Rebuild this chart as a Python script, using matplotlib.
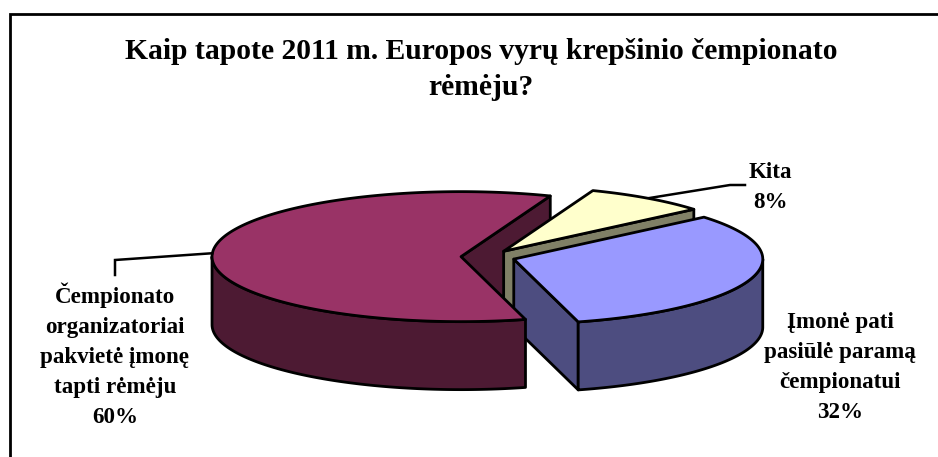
import numpy as np
import matplotlib
matplotlib.use("Agg")
import matplotlib.pyplot as plt
from matplotlib.patches import Polygon

# Survey shares, in drawing order starting from the first slice
categories = ["Čempionato\norganizatoriai\npakvietė įmonę\ntapti rėmėju",
              "Įmonė pati\npasiūlė paramą\nčempionatui",
              "Kita"]
shares = [60, 32, 8]
title_lines = ["Kaip tapote 2011 m. Europos vyrų krepšinio čempionato", "rėmėju?"]

top_colors = ["#993366", "#9999FF", "#FFFFCC"]
side_colors = ["#4D1A33", "#4D4D80", "#808066"]

W, H = 938, 457
CX, CY = 488.0, 257.0       # pie centre before explosion
RX, RY = 249.0, 65.0        # ellipse radii of the top face
DEPTH = 68.0                # wall height
EXPLODE = 27.0              # explosion along each slice's mid angle
START = 69.0                # angle where the first slice begins
EDGE = 2.0

plt.rcParams["font.family"] = ["Liberation Serif", "DejaVu Serif"]
fig = plt.figure(figsize=(W / 100, H / 100), dpi=100)
ax = fig.add_axes([0, 0, 1, 1])
ax.set_xlim(0, W)
ax.set_ylim(H, 0)
ax.axis("off")

# Slice geometry derived from the shares
slices = []
a0 = START
for share in shares:
    a1 = a0 + share * 3.6
    mid = np.radians((a0 + a1) / 2)
    sx = CX + EXPLODE * np.cos(mid)
    sy = CY - EXPLODE * RY / RX * np.sin(mid)
    slices.append(dict(a0=a0, a1=a1, mid=mid, x=sx, y=sy))
    a0 = a1


def rim(s, a):
    t = np.radians(a)
    return s["x"] + RX * np.cos(t), s["y"] - RY * np.sin(t)


def add(points, color, z):
    ax.add_patch(Polygon(points, closed=True, facecolor=color, edgecolor="black",
                         linewidth=EDGE, joinstyle="round", zorder=z))


def top_face(s, color, z):
    angles = np.linspace(s["a0"], s["a1"], 200)
    pts = [(s["x"], s["y"])] + [rim(s, a) for a in angles]
    add(pts, color, z)


def start_wall(s, color, z):
    ex, ey = rim(s, s["a0"])
    add([(s["x"], s["y"]), (ex, ey), (ex, ey + DEPTH), (s["x"], s["y"] + DEPTH)], color, z)


def outer_wall(s, color, z):
    # Only the part of the rim on the near half of the ellipse faces the viewer
    lo = max(s["a0"], 180.0)
    hi = min(s["a1"], 360.0)
    angles = np.linspace(lo, hi, 200)
    upper = [rim(s, a) for a in angles]
    lower = [(x, y + DEPTH) for x, y in reversed(upper)]
    add(upper + lower, color, z)


big, blue, other = slices

# Back-to-front painting order of the exploded slices
start_wall(big, side_colors[0], 2)
start_wall(other, side_colors[2], 3)
top_face(other, top_colors[2], 4)
start_wall(blue, side_colors[1], 5)
outer_wall(blue, side_colors[1], 5)
top_face(blue, top_colors[1], 6)
outer_wall(big, side_colors[0], 7)
top_face(big, top_colors[0], 8)

# Leader lines from the rim to the labels
lx, ly = rim(big, np.degrees(big["mid"]))
ax.plot([lx, 115, 115], [ly, 260, 275], color="black", lw=1.8, zorder=9, solid_joinstyle="miter")
lx, ly = rim(other, np.degrees(other["mid"]))
ax.plot([lx, 730, 745], [ly, 185, 185], color="black", lw=1.8, zorder=1, solid_joinstyle="miter")

# Chart frame: only the left and top edges fall inside the canvas
ax.plot([10, 10, W + 5], [H + 5, 14, 14], color="black", lw=2.0, zorder=1, clip_on=True,
        solid_joinstyle="miter")


def stacked(text, x, y0, pitch, size):
    for i, line in enumerate(text.split("\n")):
        ax.text(x, y0 + i * pitch, line, ha="center", va="baseline", fontsize=size,
                fontweight="bold", color="black", zorder=10)


for i, line in enumerate(title_lines):
    ax.text(481, 59 + i * 36, line, ha="center", va="baseline", fontsize=21.3,
            fontweight="bold", color="black", zorder=10)

stacked(categories[0] + f"\n{shares[0]}%", 115, 303, 30, 16.6)
stacked(categories[1] + f"\n{shares[1]}%", 840, 328, 30, 16.6)
stacked(categories[2] + f"\n{shares[2]}%", 770, 178, 30, 16.6)

fig.savefig("out.png", dpi=100, facecolor="white")
